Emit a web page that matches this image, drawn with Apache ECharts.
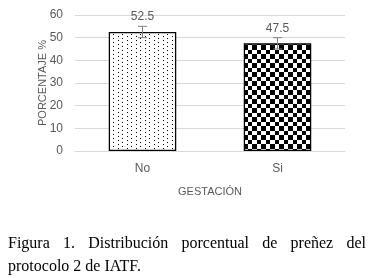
<!DOCTYPE html>
<html><head><meta charset="utf-8">
<script src="https://cdn.jsdelivr.net/npm/echarts@6/dist/echarts.min.js"></script>
<style>
html,body{margin:0;padding:0;background:#fff;}
#c{position:absolute;left:0;top:0;width:374px;height:278px;}
.cap{position:absolute;left:8px;width:358px;font-family:"Liberation Serif","Times New Roman",serif;font-size:16px;line-height:23px;color:#000;white-space:nowrap;}
#cap1{top:231px;text-align:justify;text-align-last:justify;}
#cap2{top:254px;text-align:left;}
</style></head>
<body>
<div id="c"></div>
<div class="cap" id="cap1">Figura 1. Distribución porcentual de preñez del</div>
<div class="cap" id="cap2">protocolo 2 de IATF.</div>
<script>
const categories = ['No', 'Si'];
const values = [52.5, 47.5];
const errors = [2.5, 2.5];
const yTicks = [0, 10, 20, 30, 40, 50, 60];
const yAxisName = 'PORCENTAJE %';
const xAxisName = 'GESTACIÓN';

function dotPattern(){
  const c = document.createElement('canvas'); c.width = 9; c.height = 8;
  const g = c.getContext('2d');
  g.fillStyle = '#fff'; g.fillRect(0,0,9,8);
  g.fillStyle = '#000';
  g.fillRect(1,0,1,1); g.fillRect(1,4,1,1); g.fillRect(5,2,1,1); g.fillRect(5,6,1,1);
  return c;
}
function checkPattern(){
  const c = document.createElement('canvas'); c.width = 9; c.height = 9;
  const g = c.getContext('2d');
  g.fillStyle = '#fff'; g.fillRect(0,0,9,9);
  g.fillStyle = '#000';
  g.fillRect(0,0,5,5); g.fillRect(5,5,4,4);
  return c;
}
const patterns = [dotPattern(), checkPattern()];

const chart = echarts.init(document.getElementById('c'), null, {renderer:'canvas'});
const txt = '#595959';
chart.setOption({
  animation:false,
  grid:{left:75, right:29, top:15, bottom:127},
  xAxis:{type:'category', data:categories,
    name:xAxisName, nameLocation:'middle', nameGap:35, nameMoveOverlap:false,
    nameTextStyle:{color:txt, fontSize:11, fontFamily:'Liberation Sans'},
    axisLine:{lineStyle:{color:'#d9d9d9'}}, axisTick:{show:false},
    axisLabel:{color:txt, fontSize:12, fontFamily:'Liberation Sans', margin:12}},
  yAxis:{type:'value', min:yTicks[0], max:yTicks[yTicks.length-1], interval:10,
    name:yAxisName, nameLocation:'middle', nameGap:27, nameRotate:90, nameMoveOverlap:false,
    nameTextStyle:{color:txt, fontSize:11, fontFamily:'Liberation Sans'},
    axisLine:{show:false}, axisTick:{show:false},
    axisLabel:{color:txt, fontSize:12, fontFamily:'Liberation Sans', margin:12},
    splitLine:{lineStyle:{color:'#d9d9d9'}}},
  series:[
    {type:'bar', barWidth:'50%',
     data: values.map((v,i)=>({value:v, itemStyle:{color:{image:patterns[i], repeat:'repeat'}, borderColor:'#000', borderWidth:1.3}})),
     label:{show:true, position:'top', distance:9, color:txt, fontSize:12, fontFamily:'Liberation Sans'}},
    {type:'custom', z:10,
     data: values.map((v,i)=>[i, v-errors[i], v+errors[i]]),
     renderItem:function(params, api){
       const lo = api.coord([api.value(0), api.value(1)]);
       const hi = api.coord([api.value(0), api.value(2)]);
       const w = 4.5;
       const st = {stroke:'#7f7f7f', lineWidth:1};
       return {type:'group', children:[
         {type:'line', shape:{x1:hi[0], y1:hi[1], x2:lo[0], y2:lo[1]}, style:st},
         {type:'line', shape:{x1:hi[0]-w, y1:hi[1], x2:hi[0]+w, y2:hi[1]}, style:st},
         {type:'line', shape:{x1:lo[0]-w, y1:lo[1], x2:lo[0]+w, y2:lo[1]}, style:st}
       ]};
     }}
  ]
});
</script>
</body></html>
